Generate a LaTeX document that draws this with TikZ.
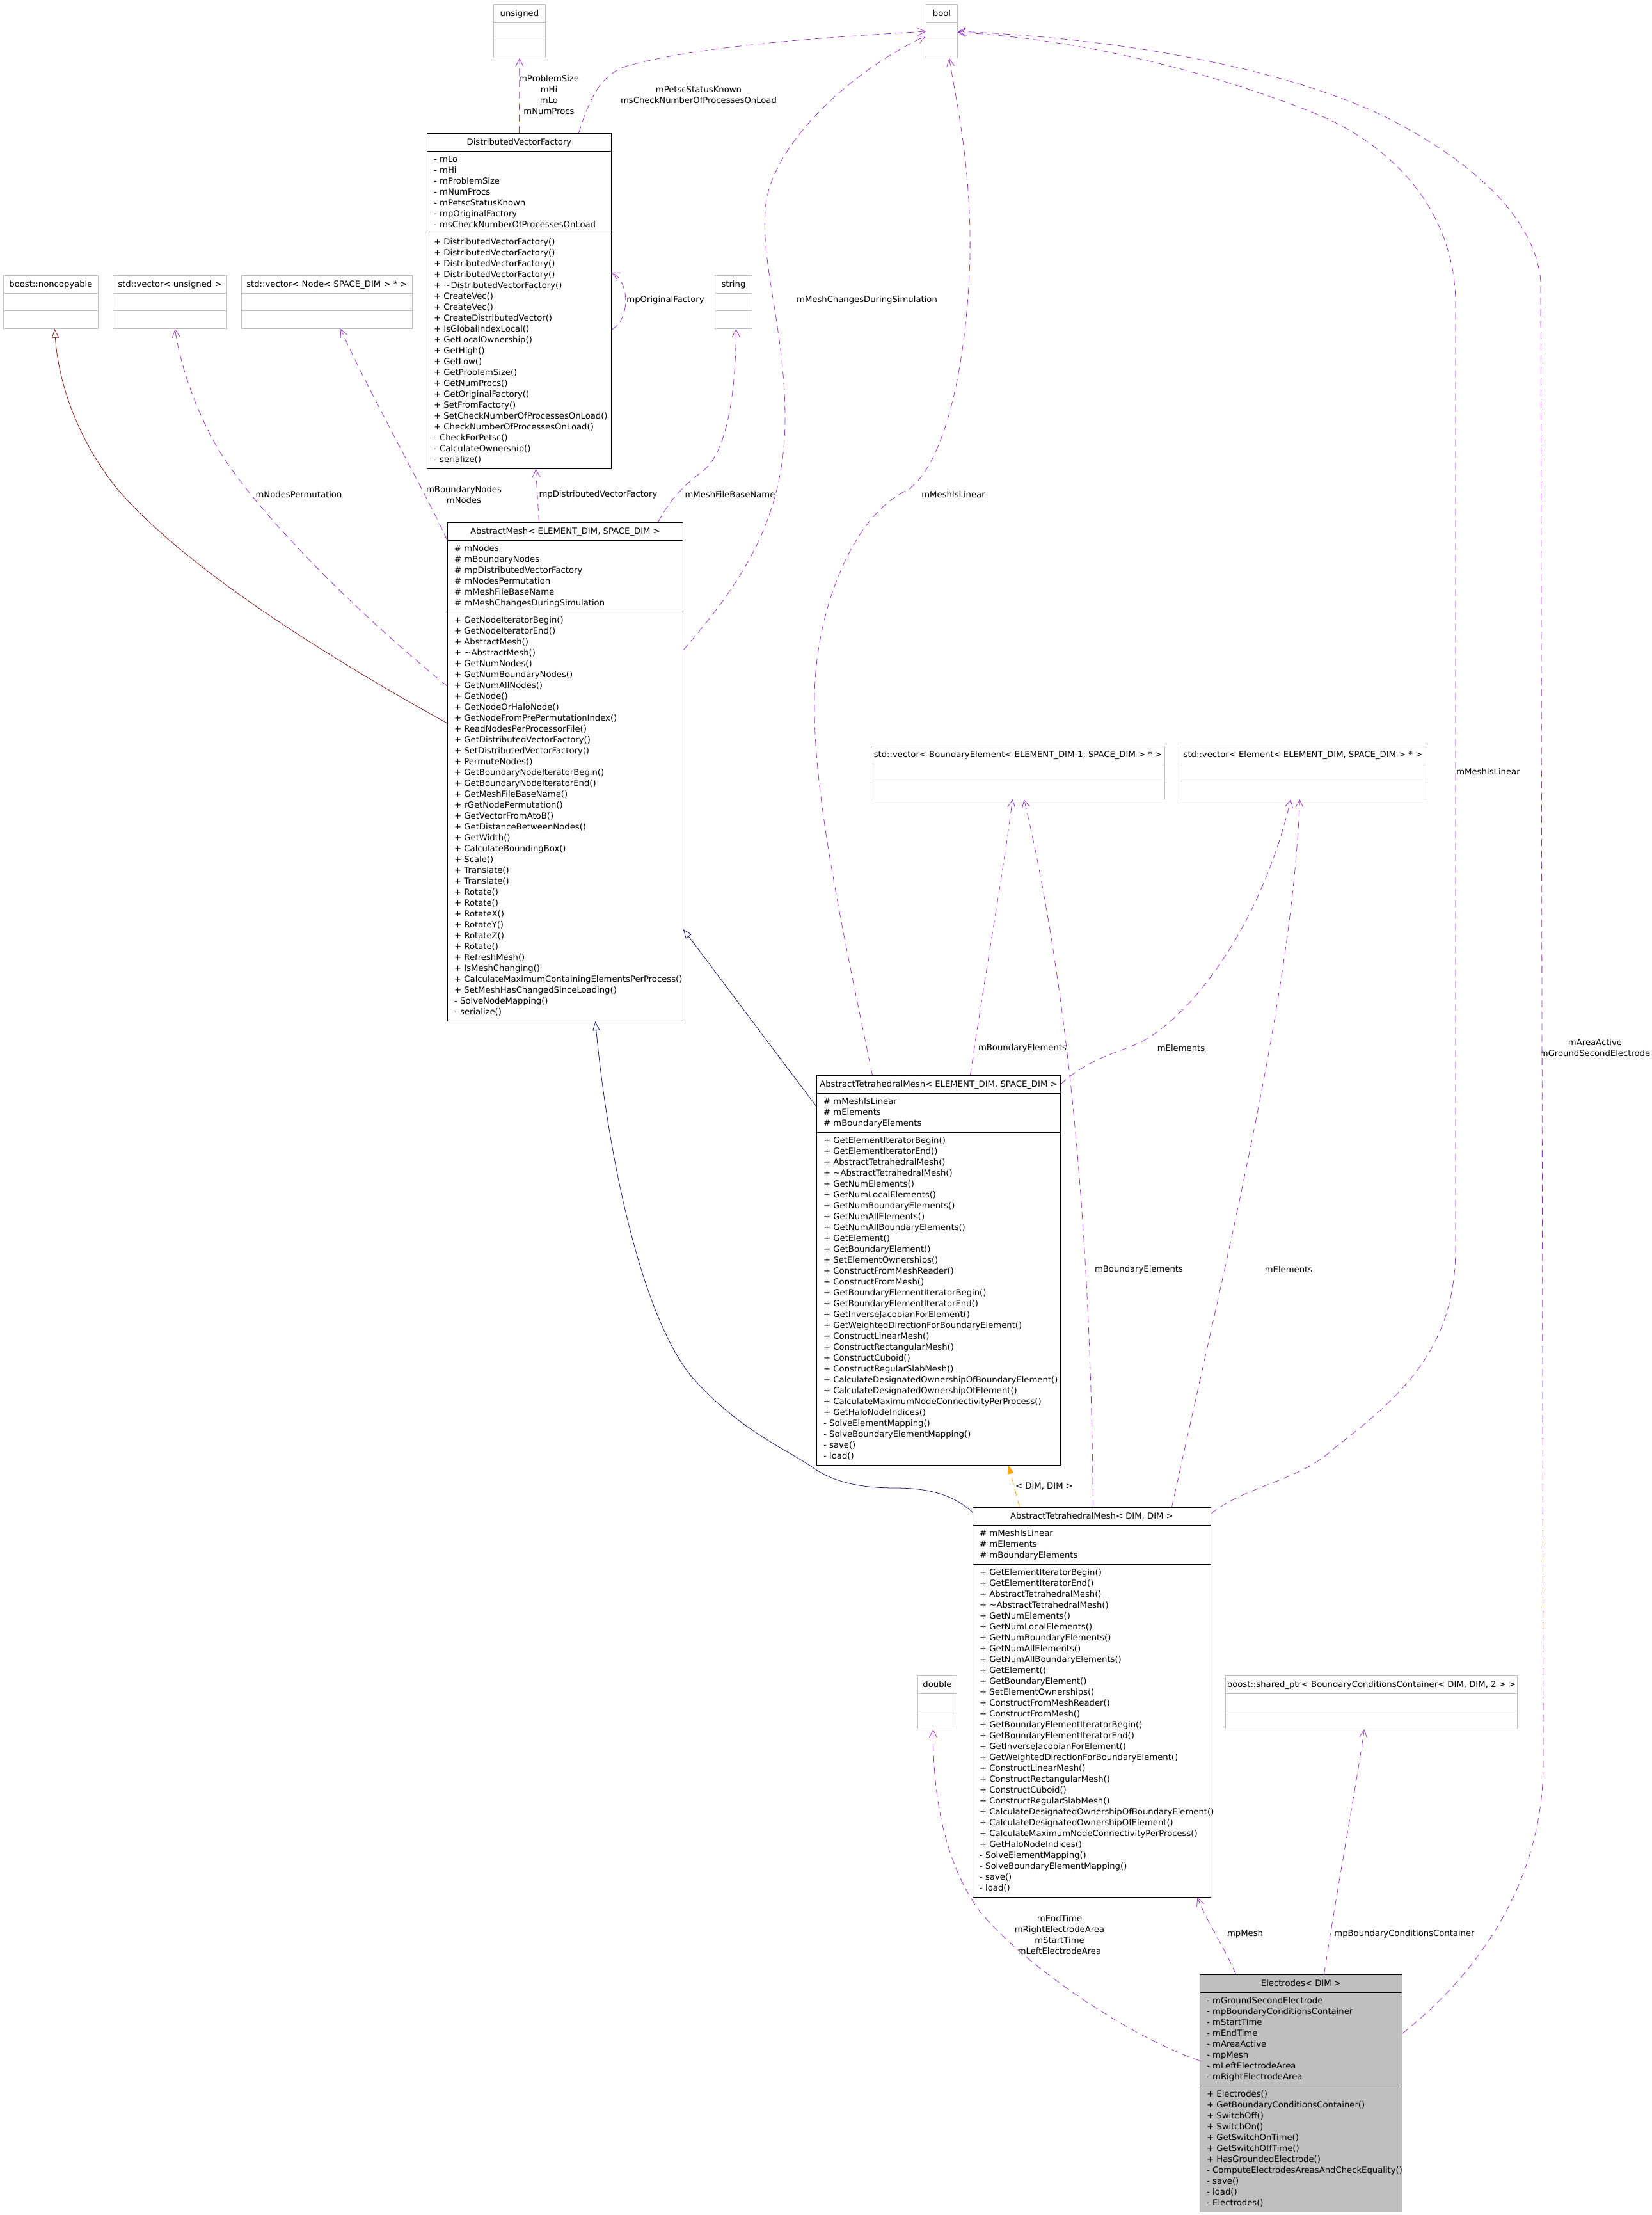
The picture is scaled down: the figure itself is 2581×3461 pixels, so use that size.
\documentclass[tikz,border=0pt]{standalone}
\usepackage{fontspec}
\setmainfont{DejaVu Sans}
\usetikzlibrary{arrows.meta,calc}
\definecolor{usecol}{HTML}{9A32CD}
\definecolor{inhcol}{HTML}{191970}
\definecolor{privcol}{HTML}{8B1A1A}
\definecolor{tplcol}{HTML}{FFA500}
\definecolor{extgray}{HTML}{BFBFBF}
\newcommand{\dgfont}{\fontsize{13.2}{17}\selectfont}
% class box: name, x, y, width, #attrs, #methods, title, attrs, methods
\newcommand{\classbox}[9]{%
  \pgfmathsetmacro\hattr{#5*17+10}%
  \pgfmathsetmacro\hmeth{#6*17+10}%
  \pgfmathsetmacro\htot{28+\hattr+\hmeth}%
  \node[classbox, minimum width=#4, minimum height=\htot] (#1) at (#2,-#3) {};
  \node[headtext] at ($(#1.north)+(0,-18)$) {#7};
  \draw[classline] ($(#1.north west)+(0,-28)$) -- ($(#1.north east)+(0,-28)$);
  \draw[classline] ($(#1.north west)+(0,-28-\hattr)$) -- ($(#1.north east)+(0,-28-\hattr)$);
  \node[membertext] at ($(#1.north west)+(11,-33)$) {\strut #8};
  \node[membertext] at ($(#1.north west)+(11,-33-\hattr)$) {\strut #9};
}
% external type: name, x, y, width, title
\newcommand{\typebox}[5]{%
  \node[typebox, minimum width=#4, minimum height=83] (#1) at (#2,-#3) {};
  \node[headtext] at ($(#1.north)+(0,-18)$) {#5};
  \draw[typeline] ($(#1.north west)+(0,-28)$) -- ($(#1.north east)+(0,-28)$);
  \draw[typeline] ($(#1.north west)+(0,-55.5)$) -- ($(#1.north east)+(0,-55.5)$);
}
\newcommand{\tetattrs}{\# mMeshIsLinear\\\# mElements\\\# mBoundaryElements}
\newcommand{\tetmethods}{+ GetElementIteratorBegin()\\+ GetElementIteratorEnd()\\
+ AbstractTetrahedralMesh()\\+ \textasciitilde AbstractTetrahedralMesh()\\
+ GetNumElements()\\+ GetNumLocalElements()\\+ GetNumBoundaryElements()\\
+ GetNumAllElements()\\+ GetNumAllBoundaryElements()\\+ GetElement()\\
+ GetBoundaryElement()\\+ SetElementOwnerships()\\+ ConstructFromMeshReader()\\
+ ConstructFromMesh()\\+ GetBoundaryElementIteratorBegin()\\
+ GetBoundaryElementIteratorEnd()\\+ GetInverseJacobianForElement()\\
+ GetWeightedDirectionForBoundaryElement()\\+ ConstructLinearMesh()\\
+ ConstructRectangularMesh()\\+ ConstructCuboid()\\+ ConstructRegularSlabMesh()\\
+ CalculateDesignatedOwnershipOfBoundaryElement()\\
+ CalculateDesignatedOwnershipOfElement()\\
+ CalculateMaximumNodeConnectivityPerProcess()\\+ GetHaloNodeIndices()\\
- SolveElementMapping()\\- SolveBoundaryElementMapping()\\- save()\\- load()}

\begin{document}
\begin{tikzpicture}[x=1pt,y=1pt,
  classbox/.style={draw=black, line width=0.9pt, anchor=north west, inner sep=0pt},
  typebox/.style={draw=extgray, line width=0.9pt, anchor=north west, inner sep=0pt},
  classline/.style={draw=black, line width=0.9pt},
  typeline/.style={draw=extgray, line width=0.9pt},
  headtext/.style={anchor=base, inner sep=0pt, font=\dgfont},
  membertext/.style={anchor=north west, inner sep=0pt, align=left, font=\dgfont},
  lbl/.style={inner sep=0pt, align=center, font=\dgfont},
  uses/.style={draw=usecol, line width=0.8pt, dash pattern=on 11pt off 7pt,
    -{Straight Barb[length=12pt,width=12pt]}},
  inherit/.style={draw=inhcol, line width=0.8pt,
    -{Triangle[open,length=14pt,width=11pt,fill=white]}},
  private/.style={inherit, draw=privcol},
  tpl/.style={draw=tplcol, line width=0.8pt, dash pattern=on 11pt off 7pt,
    -{Triangle[length=13pt,width=10pt]}}]
\useasboundingbox[fill=white] (0,0) rectangle (2581,-3461);

% external types
\typebox{tunsigned}{771}{7}{81}{unsigned}
\typebox{tbool}{1447}{7}{49}{bool}
\typebox{noncopy}{5}{430}{148}{boost::noncopyable}
\typebox{vecunsigned}{176}{430}{178}{std::vector< unsigned >}
\typebox{vecnode}{377}{430}{267}{std::vector< Node< SPACE\_DIM > * >}
\typebox{tstring}{1117}{430}{58}{string}
\typebox{vecbe}{1361}{1165}{459}{std::vector< BoundaryElement< ELEMENT\_DIM-1, SPACE\_DIM > * >}
\typebox{vecel}{1844}{1165}{384}{std::vector< Element< ELEMENT\_DIM, SPACE\_DIM > * >}
\typebox{tdouble}{1434}{2618}{61}{double}
\typebox{bcptr}{1915}{2618}{456}{boost::shared\_ptr< BoundaryConditionsContainer< DIM, DIM, 2 > >}

% classes
\classbox{dvf}{667}{208}{288}{7}{21}{DistributedVectorFactory}
{- mLo\\- mHi\\- mProblemSize\\- mNumProcs\\- mPetscStatusKnown\\- mpOriginalFactory\\- msCheckNumberOfProcessesOnLoad}
{+ DistributedVectorFactory()\\+ DistributedVectorFactory()\\+ DistributedVectorFactory()\\
+ DistributedVectorFactory()\\+ \textasciitilde DistributedVectorFactory()\\+ CreateVec()\\
+ CreateVec()\\+ CreateDistributedVector()\\+ IsGlobalIndexLocal()\\+ GetLocalOwnership()\\
+ GetHigh()\\+ GetLow()\\+ GetProblemSize()\\+ GetNumProcs()\\+ GetOriginalFactory()\\
+ SetFromFactory()\\+ SetCheckNumberOfProcessesOnLoad()\\+ CheckNumberOfProcessesOnLoad()\\
- CheckForPetsc()\\- CalculateOwnership()\\- serialize()}
\classbox{amesh}{699}{816}{368}{6}{37}{AbstractMesh< ELEMENT\_DIM, SPACE\_DIM >}
{\# mNodes\\\# mBoundaryNodes\\\# mpDistributedVectorFactory\\\# mNodesPermutation\\\# mMeshFileBaseName\\\# mMeshChangesDuringSimulation}
{+ GetNodeIteratorBegin()\\+ GetNodeIteratorEnd()\\+ AbstractMesh()\\+ \textasciitilde AbstractMesh()\\
+ GetNumNodes()\\+ GetNumBoundaryNodes()\\+ GetNumAllNodes()\\+ GetNode()\\+ GetNodeOrHaloNode()\\
+ GetNodeFromPrePermutationIndex()\\+ ReadNodesPerProcessorFile()\\+ GetDistributedVectorFactory()\\
+ SetDistributedVectorFactory()\\+ PermuteNodes()\\+ GetBoundaryNodeIteratorBegin()\\
+ GetBoundaryNodeIteratorEnd()\\+ GetMeshFileBaseName()\\+ rGetNodePermutation()\\
+ GetVectorFromAtoB()\\+ GetDistanceBetweenNodes()\\+ GetWidth()\\+ CalculateBoundingBox()\\
+ Scale()\\+ Translate()\\+ Translate()\\+ Rotate()\\+ Rotate()\\+ RotateX()\\+ RotateY()\\
+ RotateZ()\\+ Rotate()\\+ RefreshMesh()\\+ IsMeshChanging()\\
+ CalculateMaximumContainingElementsPerProcess()\\+ SetMeshHasChangedSinceLoading()\\
- SolveNodeMapping()\\- serialize()}
\classbox{atmes}{1276}{1680}{381}{3}{30}{AbstractTetrahedralMesh< ELEMENT\_DIM, SPACE\_DIM >}{\tetattrs}{\tetmethods}
\classbox{atmdd}{1520}{2355}{372}{3}{30}{AbstractTetrahedralMesh< DIM, DIM >}{\tetattrs}{\tetmethods}
\begin{scope}[classbox/.append style={fill=extgray}]
\classbox{electrodes}{1875}{3085}{316}{8}{11}{Electrodes< DIM >}
{- mGroundSecondElectrode\\- mpBoundaryConditionsContainer\\- mStartTime\\- mEndTime\\- mAreaActive\\- mpMesh\\- mLeftElectrodeArea\\- mRightElectrodeArea}
{+ Electrodes()\\+ GetBoundaryConditionsContainer()\\+ SwitchOff()\\+ SwitchOn()\\+ GetSwitchOnTime()\\
+ GetSwitchOffTime()\\+ HasGroundedElectrode()\\- ComputeElectrodesAreasAndCheckEquality()\\- save()\\- load()\\- Electrodes()}
\end{scope}

% factory members
\draw[uses] (dvf.north) -- (tunsigned.south);
\node[lbl] (lfactsize) at (858,-148) {mProblemSize\\mHi\\mLo\\mNumProcs};
\draw[uses] ([xshift=93]dvf.north) .. controls (920,-160) and (935,-118) .. (980,-103)
  .. controls (1100,-70) and (1300,-58) .. (tbool.west);
\node[lbl] (lfactbool) at (1092,-148) {mPetscStatusKnown\\msCheckNumberOfProcessesOnLoad};
\draw[uses] ([yshift=-307]dvf.north east) .. controls (985,-500) and (985,-440) .. ([yshift=-218]dvf.north east);
\node[lbl] (lfactself) at (1040,-469) {mpOriginalFactory};

% mesh members
\draw[uses] ([yshift=-200]amesh.north east) .. controls (1150,-920) and (1225,-820) .. (1227,-660)
  .. controls (1228,-520) and (1190,-420) .. (1196,-330)
  .. controls (1200,-230) and (1330,-110) .. ([yshift=-7.5]tbool.west);
\node[lbl] (lmeshchg) at (1355,-469) {mMeshChangesDuringSimulation};
\draw[uses] ([xshift=-41]amesh.north) -- ([xshift=26]dvf.south);
\node[lbl] (lmeshdvf) at (935,-773) {mpDistributedVectorFactory};
\draw[uses] ([xshift=145]amesh.north) .. controls (1045,-785) and (1065,-760) .. (1100,-735)
  .. controls (1140,-700) and (1150,-600) .. ([xshift=4]tstring.south);
\node[lbl] (lmeshfile) at (1141,-773) {mMeshFileBaseName};
\draw[uses] ([yshift=-28]amesh.north west) .. controls (665,-770) and (570,-600) .. ([xshift=21.5]vecnode.south);
\node[lbl] (lmeshnodes) at (725,-773) {mBoundaryNodes\\mNodes};
\draw[uses] ([yshift=-256]amesh.north west) .. controls (560,-960) and (400,-800) .. (340,-700)
  .. controls (300,-630) and (280,-560) .. ([xshift=8]vecunsigned.south);
\node[lbl] (lmeshperm) at (467,-773) {mNodesPermutation};

% inheritance
\draw[private] ([yshift=-314]amesh.north west) .. controls (500,-1020) and (280,-880) .. (180,-760)
  .. controls (110,-670) and (90,-580) .. ([xshift=6]noncopy.south);
\draw[inherit] ([yshift=-49]atmes.north west) -- ([yshift=-636]amesh.north east);
\draw[inherit] ([yshift=-8]atmdd.north west) .. controls (1495,-2340) and (1460,-2325) .. (1400,-2325)
  .. controls (1340,-2325) and (1300,-2315) .. (1266,-2290)
  .. controls (1220,-2260) and (1150,-2230) .. (1080,-2150)
  .. controls (1000,-2050) and (950,-1800) .. ([xshift=47]amesh.south);
\draw[tpl] ([xshift=-113]atmdd.north) -- ([xshift=109.5]atmes.south);
\node[lbl] (ltpl) at (1632,-2322) {< DIM, DIM >};

% tetrahedral mesh members
\draw[uses] ([xshift=-103.5]atmes.north) .. controls (1310,-1420) and (1262,-1200) .. (1275,-1050)
  .. controls (1285,-930) and (1340,-800) .. (1420,-765)
  .. controls (1480,-720) and (1512,-560) .. (1516,-400)
  .. controls (1518,-260) and (1495,-160) .. ([xshift=11.5]tbool.south);
\node[lbl] (lteslin) at (1490,-773) {mMeshIsLinear};
\draw[uses] ([xshift=49.5]atmes.north) .. controls (1540,-1520) and (1570,-1350) .. ([xshift=-8.5]vecbe.south);
\node[lbl] (lesbnd) at (1598,-1638) {mBoundaryElements};
\draw[uses] ([yshift=-14]atmes.north east) .. controls (1700,-1655) and (1745,-1645) .. (1780,-1630)
  .. controls (1860,-1590) and (1970,-1450) .. ([xshift=-19]vecel.south);
\node[lbl] (lesel) at (1846,-1638) {mElements};
\draw[uses] ([xshift=2]atmdd.north) .. controls (1705,-1900) and (1665,-1520) .. ([xshift=9.5]vecbe.south);
\node[lbl] (lddbnd) at (1780,-1984) {mBoundaryElements};
\draw[uses] ([xshift=125]atmdd.north) .. controls (1920,-1950) and (2020,-1550) .. ([xshift=-5]vecel.south);
\node[lbl] (lddel) at (2014,-1984) {mElements};
\draw[uses] ([yshift=-10]atmdd.north east) .. controls (1950,-2320) and (2030,-2315) .. (2085,-2263)
  .. controls (2200,-2175) and (2275,-2100) .. (2275,-1950) -- (2275,-470)
  .. controls (2272,-330) and (2180,-230) .. (2060,-179)
  .. controls (1900,-115) and (1700,-62) .. ([yshift=-1.5]tbool.east);
\node[lbl] (lddlin) at (2326,-1206) {mMeshIsLinear};

% electrode members
\draw[uses] ([yshift=-92]electrodes.north east) .. controls (2290,-3100) and (2410,-2960) .. (2412,-2760)
  -- (2408,-440) .. controls (2400,-340) and (2300,-250) .. (2160,-180)
  .. controls (2000,-105) and (1750,-60) .. (tbool.east);
\node[lbl] (lelbool) at (2493,-1637) {mAreaActive\\mGroundSecondElectrode};
\draw[uses] ([yshift=-135]electrodes.north west) .. controls (1760,-3180) and (1600,-3070) .. (1530,-2985)
  .. controls (1470,-2900) and (1458,-2790) .. ([xshift=-6.5]tdouble.south);
\node[lbl] (leldouble) at (1656,-3023) {mEndTime\\mRightElectrodeArea\\mStartTime\\mLeftElectrodeArea};
\draw[uses] ([xshift=-102]electrodes.north) .. controls (1915,-3045) and (1885,-3000) .. ([xshift=165]atmdd.south);
\node[lbl] (lelmesh) at (1946,-3022) {mpMesh};
\draw[uses] ([xshift=36]electrodes.north) .. controls (2090,-2950) and (2118,-2800) .. ([xshift=-11]bcptr.south);
\node[lbl] (lelbc) at (2195,-3022) {mpBoundaryConditionsContainer};
\end{tikzpicture}
\end{document}
